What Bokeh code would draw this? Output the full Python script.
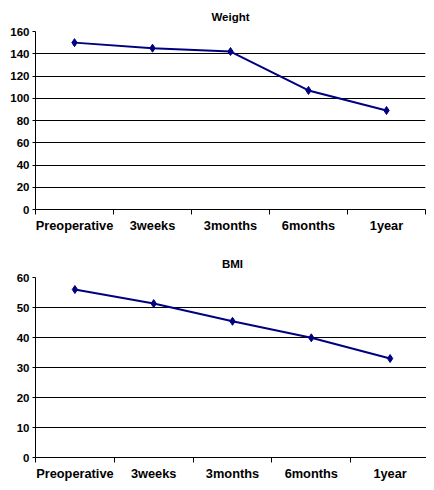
import numpy as np
from bokeh.plotting import figure
from bokeh.layouts import column
from bokeh.models import FixedTicker, Range1d
from bokeh.embed import file_html
from bokeh.resources import INLINE

categories = ["Preoperative", "3weeks", "3months", "6months", "1year"]
weight = [150, 145, 142, 107, 89]
bmi = [56, 51.3, 45.4, 39.9, 33]
weight_ticks = [0, 20, 40, 60, 80, 100, 120, 140, 160]
bmi_ticks = [0, 10, 20, 30, 40, 50, 60]

NAVY = "#000080"
FONT = "Liberation Sans"


def make_chart(title, values, yticks, frame_w, frame_h, left, top, bottom,
               title_standoff, title_valign):
    n = len(categories)
    xs = np.arange(n) + 0.5
    p = figure(output_backend="svg", toolbar_location=None,
               frame_width=frame_w, frame_height=frame_h,
               min_border_left=left, min_border_right=1,
               min_border_top=top, min_border_bottom=bottom,
               x_range=Range1d(0, n), y_range=Range1d(yticks[0], yticks[-1]),
               title=title)
    p.title.align = "center"
    p.title.vertical_align = title_valign
    p.title.text_font = FONT
    p.title.text_font_style = "bold"
    p.title.text_font_size = "11.5px"
    p.title.text_color = "black"
    p.title.standoff = title_standoff
    p.outline_line_color = None
    p.background_fill_color = "white"

    p.xgrid.grid_line_color = None
    p.ygrid.grid_line_color = "black"
    p.ygrid.grid_line_width = 1
    p.ygrid.ticker = FixedTicker(ticks=yticks)

    xa = p.xaxis[0]
    xa.ticker = FixedTicker(ticks=list(xs), minor_ticks=list(range(n + 1)))
    xa.major_label_overrides = {float(x): c for x, c in zip(xs, categories)}
    xa.major_tick_line_color = None
    xa.major_tick_out = 5
    xa.major_tick_in = 0
    xa.minor_tick_line_color = "black"
    xa.minor_tick_out = 5
    xa.minor_tick_in = 0
    xa.major_label_standoff = 3
    xa.axis_line_color = "black"

    ya = p.yaxis[0]
    ya.ticker = FixedTicker(ticks=yticks)
    ya.minor_tick_line_color = None
    ya.major_tick_out = 3
    ya.major_tick_in = 0
    ya.major_label_standoff = 3
    ya.axis_line_color = "black"

    for ax in (xa, ya):
        ax.major_label_text_font = FONT
        ax.major_label_text_font_style = "bold"
        ax.major_label_text_color = "black"
    xa.major_label_text_font_size = "12.8px"
    ya.major_label_text_font_size = "11.5px"

    p.line(xs, values, line_color=NAVY, line_width=2)
    p.scatter(xs, values, marker="diamond", size=8, fill_color=NAVY, line_color=NAVY)
    return p


p1 = make_chart("Weight", weight, weight_ticks, 390, 178, 35, 31, 36, 14, "top")
p2 = make_chart("BMI", bmi, bmi_ticks, 394, 180, 31, 32, 25, 16, "bottom")

layout = column(p1, p2, spacing=0)
open("out.html", "w").write(file_html(layout, INLINE))
